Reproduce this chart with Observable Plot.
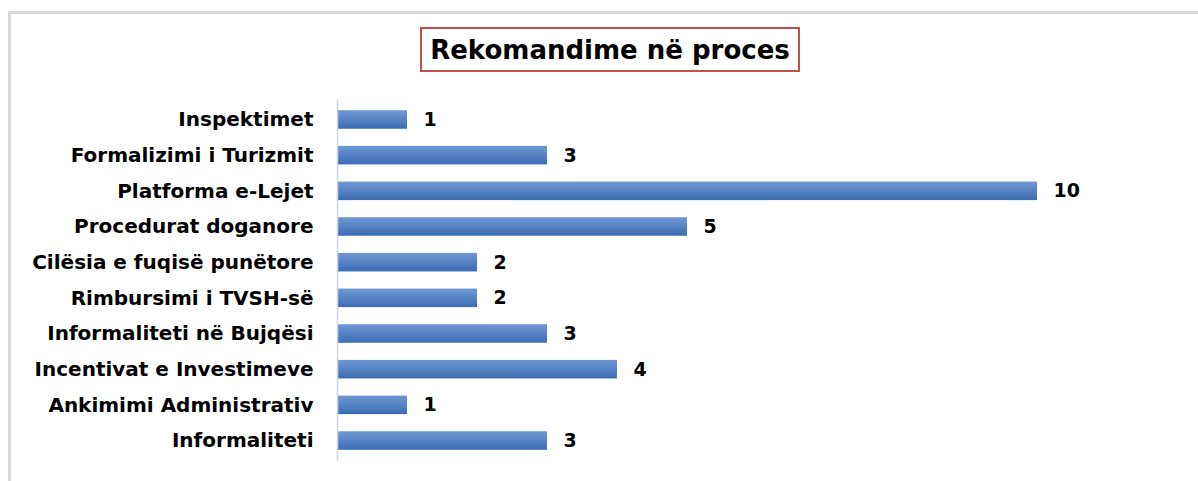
<!DOCTYPE html>
<html>
<head>
<meta charset="utf-8">
<script src="https://cdn.jsdelivr.net/npm/d3@7"></script>
<script src="https://cdn.jsdelivr.net/npm/@observablehq/plot@0.6"></script>
<style>
  html, body { margin: 0; padding: 0; background: #fff; width: 1198px; height: 481px; overflow: hidden; }
  #wrap { position: relative; width: 1198px; height: 481px; font-family: "DejaVu Sans", sans-serif; }
  #frame { position: absolute; left: 8px; top: 11px; width: 1300px; height: 600px; border-top: 3px solid #d9d9d9; border-left: 3px solid #d9d9d9; }
  #title { position: absolute; left: 420px; top: 27px; width: 376px; height: 41px; border: 2.5px solid #c0504d; display: flex; align-items: center; justify-content: center; font-weight: bold; font-size: 26px; color: #000; white-space: nowrap; }
  #chart { position: absolute; left: 0; top: 90px; }
</style>
</head>
<body>
<div id="wrap">
  <div id="frame"></div>
  <div id="title">Rekomandime në proces</div>
  <div id="chart"></div>
</div>
<script>
const categories = [
  "Inspektimet",
  "Formalizimi i Turizmit",
  "Platforma e-Lejet",
  "Procedurat doganore",
  "Cilësia e fuqisë punëtore",
  "Rimbursimi i TVSH-së",
  "Informaliteti në Bujqësi",
  "Incentivat e Investimeve",
  "Ankimimi Administrativ",
  "Informaliteti"
];
const values = [1, 3, 10, 5, 2, 2, 3, 4, 1, 3];

const data = categories.map((c, i) => ({category: c, value: values[i]}));

const plot = Plot.plot({
  width: 1198,
  height: 381,
  marginLeft: 337,
  marginRight: 161,
  marginTop: 9.5,
  marginBottom: 10.5,
  style: {fontFamily: "DejaVu Sans, sans-serif", fontSize: "20px", fontWeight: "bold", color: "#000", background: "transparent"},
  x: {domain: [0, 10], axis: null},
  y: {domain: categories, round: false, paddingInner: 0.48, paddingOuter: 0.3, label: null, tickSize: 0, tickPadding: 24},
  marks: [
    Plot.barX(data, {x: "value", y: "category", fill: "url(#barGrad)"}),
    Plot.ruleX([0], {stroke: "#c9d6ea", strokeWidth: 1.5}),
    Plot.text(data, {x: "value", y: "category", text: d => String(d.value), textAnchor: "start", dx: 16, fontSize: 19, fontWeight: "bold", fill: "#000"})
  ]
});

const svg = d3.select(plot);
const defs = svg.insert("defs", ":first-child");
const g = defs.append("linearGradient").attr("id", "barGrad").attr("x1", 0).attr("y1", 0).attr("x2", 0).attr("y2", 1);
g.append("stop").attr("offset", "0%").attr("stop-color", "#7099d2");
g.append("stop").attr("offset", "100%").attr("stop-color", "#3a6cb3");
svg.selectAll("g[aria-label='bar'] rect").attr("fill", "url(#barGrad)");
svg.selectAll("g[aria-label='bar']").attr("fill", "url(#barGrad)");
svg.selectAll("g[aria-label='y-axis tick label'] text, g[aria-label='y-axis'] text").attr("fill", "#000");
document.getElementById("chart").appendChild(plot);
</script>
</body>
</html>
